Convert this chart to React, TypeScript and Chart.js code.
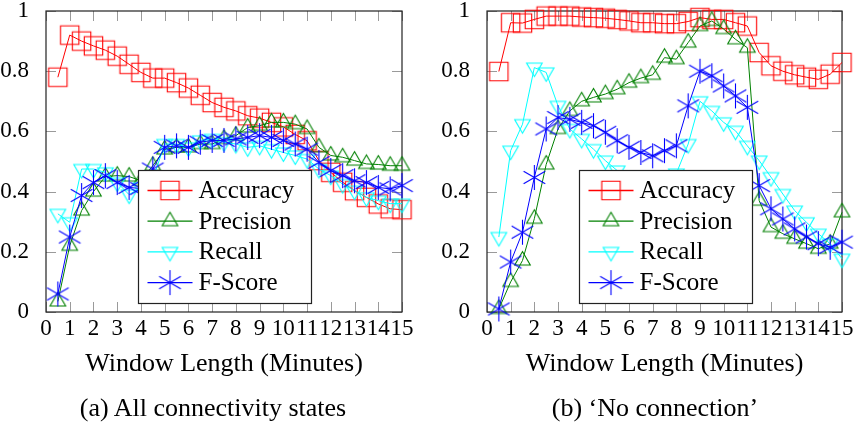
import React, { useEffect, useRef } from 'react';
import { Chart, registerables } from 'chart.js';

Chart.register(...registerables);

// ---------------- data ----------------
const windowLengths = [
  0.5, 1, 1.5, 2, 2.5, 3, 3.5, 4, 4.5, 5, 5.5, 6, 6.5, 7, 7.5,
  8, 8.5, 9, 9.5, 10, 10.5, 11, 11.5, 12, 12.5, 13, 13.5, 14, 14.5, 15,
];
const xTickValues = [0, 1, 2, 3, 4, 5, 6, 7, 8, 9, 10, 11, 12, 13, 14, 15];
const xTickLabels = ['0', '1', '2', '3', '4', '5', '6', '7', '8', '9', '10', '11', '12', '13', '14', '15'];
const yTickValues = [0, 0.2, 0.4, 0.6, 0.8, 1];
const yTickLabels = ['0', '0.2', '0.4', '0.6', '0.8', '1'];
const seriesNames = ['Accuracy', 'Precision', 'Recall', 'F-Score'];
const xAxisTitle = 'Window Length (Minutes)';
const captionA = '(a) All connectivity states';
const captionB = '(b) \u2018No connection\u2019';

// (a) All connectivity states
const allAccuracy = [
  0.78, 0.92, 0.9, 0.884, 0.87, 0.85, 0.823, 0.796, 0.777, 0.777,
  0.762, 0.744, 0.72, 0.696, 0.68, 0.668, 0.652, 0.644, 0.63, 0.615,
  0.59, 0.569, 0.503, 0.464, 0.431, 0.403, 0.381, 0.359, 0.343, 0.34,
];
const allPrecision = [
  0.035, 0.22, 0.337, 0.4, 0.45, 0.453, 0.45, 0.436, 0.486, 0.54,
  0.547, 0.547, 0.558, 0.558, 0.575, 0.586, 0.613, 0.619, 0.63, 0.63,
  0.624, 0.608, 0.547, 0.52, 0.514, 0.503, 0.492, 0.49, 0.486, 0.486,
];
const allRecall = [
  0.326, 0.298, 0.475, 0.475, 0.464, 0.43, 0.39, 0.414, 0.44, 0.558,
  0.558, 0.547, 0.57, 0.575, 0.564, 0.558, 0.547, 0.552, 0.541, 0.53,
  0.52, 0.508, 0.475, 0.453, 0.425, 0.403, 0.381, 0.37, 0.36, 0.36,
];
const allFScore = [
  0.06, 0.249, 0.387, 0.43, 0.453, 0.43, 0.414, 0.41, 0.475, 0.547,
  0.552, 0.547, 0.564, 0.57, 0.57, 0.575, 0.58, 0.586, 0.58, 0.57,
  0.558, 0.541, 0.497, 0.47, 0.453, 0.436, 0.43, 0.414, 0.409, 0.42,
];

// (b) 'No connection'
const noConnAccuracy = [
  0.799, 0.961, 0.96, 0.972, 0.983, 0.983, 0.983, 0.98, 0.978, 0.976,
  0.972, 0.967, 0.961, 0.961, 0.958, 0.958, 0.965, 0.978, 0.972, 0.972,
  0.961, 0.95, 0.862, 0.818, 0.8, 0.788, 0.78, 0.773, 0.79, 0.829,
];
const noConnPrecision = [
  0.01, 0.1, 0.171, 0.31, 0.49, 0.608, 0.668, 0.7, 0.713, 0.724,
  0.74, 0.762, 0.777, 0.788, 0.845, 0.84, 0.895, 0.95, 0.967, 0.94,
  0.906, 0.878, 0.37, 0.282, 0.26, 0.243, 0.227, 0.21, 0.227, 0.331,
];
const noConnRecall = [
  0.249, 0.536, 0.624, 0.812, 0.796, 0.685, 0.608, 0.575, 0.541, 0.503,
  0.47, 0.45, 0.44, 0.43, 0.44, 0.46, 0.558, 0.7, 0.668, 0.63,
  0.602, 0.552, 0.503, 0.448, 0.392, 0.337, 0.298, 0.26, 0.227, 0.177,
];
const noConnFScore = [
  0.01, 0.166, 0.265, 0.447, 0.608, 0.646, 0.64, 0.63, 0.619, 0.597,
  0.569, 0.547, 0.53, 0.519, 0.536, 0.552, 0.685, 0.8, 0.785, 0.751,
  0.718, 0.68, 0.42, 0.343, 0.309, 0.276, 0.249, 0.227, 0.215, 0.232,
];

// ---------------- styling ----------------
const FONT = '"Liberation Serif", "Times New Roman", serif';
const TICK_SIZE = 23;
const LEGEND_SIZE = 25;
const TITLE_SIZE = 26;
const seriesColors = ['rgb(255,0,0)', 'rgb(0,128,0)', 'rgb(0,255,255)', 'rgb(0,0,255)'];
const markerKinds = ['square', 'triUp', 'triDown', 'asterisk'];

function makeMarker(kind: string, color: string): HTMLCanvasElement {
  const size = 33;
  const c = document.createElement('canvas');
  c.width = size;
  c.height = size;
  const ctx = c.getContext('2d')!;
  ctx.strokeStyle = color;
  ctx.lineWidth = 1.1;
  const m = size / 2;
  ctx.beginPath();
  if (kind === 'square') {
    const h = 9.2;
    ctx.rect(m - h, m - h, 2 * h, 2 * h);
  } else if (kind === 'triUp') {
    const R = 9;
    ctx.moveTo(m, m - R);
    ctx.lineTo(m + R * 0.866, m + R / 2);
    ctx.lineTo(m - R * 0.866, m + R / 2);
    ctx.closePath();
  } else if (kind === 'triDown') {
    const R = 9;
    ctx.moveTo(m, m + R);
    ctx.lineTo(m + R * 0.866, m - R / 2);
    ctx.lineTo(m - R * 0.866, m - R / 2);
    ctx.closePath();
  } else {
    const r = 12.5;
    ctx.moveTo(m, m - r);
    ctx.lineTo(m, m + r);
    ctx.moveTo(m + 0.866 * r, m - 0.5 * r);
    ctx.lineTo(m - 0.866 * r, m + 0.5 * r);
    ctx.moveTo(m + 0.866 * r, m + 0.5 * r);
    ctx.lineTo(m - 0.866 * r, m - 0.5 * r);
  }
  ctx.stroke();
  return c;
}

const frameTicksPlugin = {
  id: 'frameTicks',
  beforeDatasetsDraw(chart: any) {
    const { ctx, chartArea: a, scales } = chart;
    const xs = scales.x;
    const ys = scales.y;
    ctx.save();
    ctx.strokeStyle = '#9a9a9a';
    ctx.lineWidth = 1;
    ctx.beginPath();
    const tl = 10;
    for (const v of xTickValues) {
      const px = Math.round(xs.getPixelForValue(v)) + 0.5;
      ctx.moveTo(px, a.bottom);
      ctx.lineTo(px, a.bottom - tl);
      ctx.moveTo(px, a.top);
      ctx.lineTo(px, a.top + tl);
    }
    for (const v of yTickValues) {
      const py = Math.round(ys.getPixelForValue(v)) + 0.5;
      ctx.moveTo(a.left, py);
      ctx.lineTo(a.left + tl, py);
      ctx.moveTo(a.right, py);
      ctx.lineTo(a.right - tl, py);
    }
    ctx.stroke();
    ctx.strokeStyle = '#222';
    ctx.lineWidth = 1.2;
    ctx.strokeRect(a.left, a.top, a.right - a.left, a.bottom - a.top);
    ctx.restore();
  },
};

const boxLegendPlugin = {
  id: 'boxLegend',
  afterDatasetsDraw(chart: any, _args: any, opts: any) {
    const { ctx, chartArea: a } = chart;
    const markers: HTMLCanvasElement[] = opts.markers;
    const left = Math.round(a.left + opts.offsetX) + 0.5;
    const top = Math.round(a.top + opts.offsetY) + 0.5;
    ctx.save();
    ctx.fillStyle = '#fff';
    ctx.fillRect(left, top, opts.width, opts.height);
    ctx.strokeStyle = '#222';
    ctx.lineWidth = 1.2;
    ctx.strokeRect(left, top, opts.width, opts.height);
    ctx.font = `${LEGEND_SIZE}px ${FONT}`;
    ctx.textBaseline = 'middle';
    ctx.textAlign = 'left';
    seriesNames.forEach((name, i) => {
      const cy = top + opts.firstRow + i * opts.rowGap;
      ctx.strokeStyle = seriesColors[i];
      ctx.lineWidth = 1.3;
      ctx.beginPath();
      ctx.moveTo(left + 9, cy);
      ctx.lineTo(left + 54, cy);
      ctx.stroke();
      const mk = markers[i];
      ctx.drawImage(mk, left + 31.5 - mk.width / 2, cy - mk.height / 2);
      ctx.fillStyle = '#000';
      ctx.fillText(name, left + 60, cy + 1);
    });
    ctx.restore();
  },
};

type PanelProps = {
  series: number[][];
  canvasLeft: number;
  canvasWidth: number;
  yAxisWidth: number;
  rightPad: number;
};

function ChartPanel({ series, canvasLeft, canvasWidth, yAxisWidth, rightPad }: PanelProps) {
  const ref = useRef<HTMLCanvasElement | null>(null);

  useEffect(() => {
    if (!ref.current) return;
    const markers = seriesColors.map((c, i) => makeMarker(markerKinds[i], c));
    const datasets = series.map((vals, i) => ({
      label: seriesNames[i],
      data: windowLengths.map((x, j) => ({ x, y: vals[j] })),
      borderColor: seriesColors[i],
      backgroundColor: 'transparent',
      borderWidth: 1,
      pointStyle: markers[i],
      pointRadius: 10,
      pointHoverRadius: 10,
      tension: 0,
      fill: false,
      clip: false,
      order: 4 - i,
    }));

    const chart = new Chart(ref.current, {
      type: 'line',
      data: { datasets },
      options: {
        animation: false,
        responsive: false,
        events: [],
        layout: { padding: { left: 0, top: 10, right: rightPad, bottom: 44.4 } },
        scales: {
          x: {
            type: 'linear',
            min: 0,
            max: 15,
            grid: { display: false },
            border: { display: false },
            afterBuildTicks: (s: any) => {
              s.ticks = xTickValues.map((v) => ({ value: v }));
            },
            afterFit: (s: any) => {
              s.height = 67.6;
              s.paddingLeft = 0;
              s.paddingRight = 0;
              s.paddingTop = 0;
              s.paddingBottom = 0;
            },
            ticks: {
              autoSkip: false,
              maxRotation: 0,
              minRotation: 0,
              padding: -5,
              color: '#000',
              font: { family: FONT, size: TICK_SIZE },
              callback: (_v: any, i: number) => xTickLabels[i],
            },
            title: {
              display: true,
              text: xAxisTitle,
              color: '#000',
              padding: 0,
              font: { family: FONT, size: TITLE_SIZE },
            },
          },
          y: {
            type: 'linear',
            min: 0,
            max: 1,
            grid: { display: false },
            border: { display: false },
            afterBuildTicks: (s: any) => {
              s.ticks = yTickValues.map((v) => ({ value: v }));
            },
            afterFit: (s: any) => {
              s.width = yAxisWidth;
              s.paddingLeft = 0;
              s.paddingRight = 0;
              s.paddingTop = 0;
              s.paddingBottom = 0;
            },
            ticks: {
              padding: 9,
              color: '#000',
              font: { family: FONT, size: TICK_SIZE },
              callback: (_v: any, i: number) => yTickLabels[i],
            },
          },
        },
        plugins: {
          legend: { display: false },
          tooltip: { enabled: false },
          title: { display: false },
          boxLegend: {
            markers,
            offsetX: 91.5,
            offsetY: 159,
            width: 173,
            height: 133,
            firstRow: 20,
            rowGap: 30.7,
          },
        } as any,
      },
      plugins: [frameTicksPlugin, boxLegendPlugin],
    } as any);
    return () => chart.destroy();
  }, []);

  return (
    <canvas
      ref={ref}
      width={canvasWidth}
      height={424}
      style={{ position: 'absolute', left: canvasLeft, top: 0, width: canvasWidth, height: 424 }}
    />
  );
}

function Caption({ text, center }: { text: string; center: number }) {
  return (
    <div
      style={{
        position: 'absolute',
        left: center - 200,
        width: 400,
        top: 394,
        lineHeight: '28px',
        textAlign: 'center',
        fontFamily: FONT,
        fontSize: TITLE_SIZE,
        color: '#000',
        whiteSpace: 'nowrap',
      }}
    >
      {text}
    </div>
  );
}

export default function App() {
  return (
    <div
      style={{
        position: 'fixed',
        left: 0,
        top: 0,
        width: 857,
        height: 424,
        background: '#fff',
        overflow: 'hidden',
      }}
    >
      <ChartPanel
        series={[allAccuracy, allPrecision, allRecall, allFScore]}
        canvasLeft={0}
        canvasWidth={428}
        yAxisWidth={46}
        rightPad={26}
      />
      <ChartPanel
        series={[noConnAccuracy, noConnPrecision, noConnRecall, noConnFScore]}
        canvasLeft={428}
        canvasWidth={429}
        yAxisWidth={59}
        rightPad={15}
      />
      <Caption text={captionA} center={213} />
      <Caption text={captionB} center={655} />
    </div>
  );
}
